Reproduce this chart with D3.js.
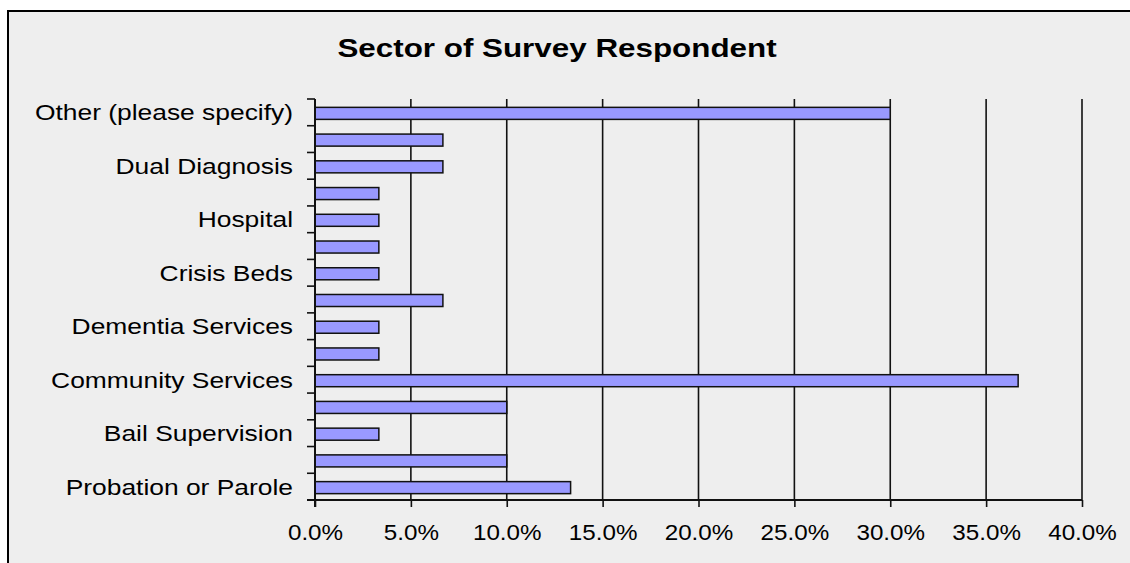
<!DOCTYPE html>
<html>
<head>
<meta charset="utf-8">
<script src="https://cdn.jsdelivr.net/npm/d3@7"></script>
<style>
  html, body { margin: 0; padding: 0; background: #ffffff; }
  svg { display: block; }
  text { font-family: "Liberation Sans", Arial, sans-serif; fill: #000; }
</style>
</head>
<body>
<svg id="chart" width="1130" height="563"></svg>
<script>
// Sectors, listed top to bottom as they appear on the chart
const sectors = [
  "Other (please specify)",
  "Mental Health Agency",
  "Dual Diagnosis",
  "Addictions",
  "Hospital",
  "Housing",
  "Crisis Beds",
  "Case Management",
  "Dementia Services",
  "Court Diversion",
  "Community Services",
  "Youth Justice",
  "Bail Supervision",
  "Corrections",
  "Probation or Parole"
];
// Share of respondents in each sector (percent)
const shares = [30.0, 6.67, 6.67, 3.33, 3.33, 3.33, 3.33, 6.67, 3.33, 3.33, 36.67, 10.0, 3.33, 10.0, 13.33];
// Only every second sector name is printed on the axis
const labelledSectors = [
  "Other (please specify)",
  "Dual Diagnosis",
  "Hospital",
  "Crisis Beds",
  "Dementia Services",
  "Community Services",
  "Bail Supervision",
  "Probation or Parole"
];
const xTicks = [0, 5, 10, 15, 20, 25, 30, 35, 40];
const chartTitle = "Sector of Survey Respondent";

const data = sectors.map((s, i) => ({ sector: s, value: shares[i] }));

const svg = d3.select("#chart");
const W = 1130, H = 563;
const plot = { left: 315, right: 1082, top: 99, bottom: 500 };

// Panel background and frame
svg.append("rect")
  .attr("x", 8).attr("y", 11)
  .attr("width", W + 20).attr("height", H + 20)
  .attr("fill", "#eeeeee")
  .attr("stroke", "#000").attr("stroke-width", 2);

const x = d3.scaleLinear().domain([0, 40]).range([plot.left, plot.right]);
const y = d3.scaleBand().domain(sectors).range([plot.top, plot.bottom])
  .paddingInner(0.55).paddingOuter(0.275);

// Vertical gridlines
svg.append("g")
  .selectAll("line")
  .data(xTicks.slice(1))
  .join("line")
  .attr("x1", d => x(d)).attr("x2", d => x(d))
  .attr("y1", plot.top).attr("y2", plot.bottom)
  .attr("stroke", "#111").attr("stroke-width", 1.6);

// Bars
svg.append("g")
  .selectAll("rect")
  .data(data)
  .join("rect")
  .attr("x", x(0))
  .attr("y", d => y(d.sector) + 1)
  .attr("width", d => x(d.value) - x(0))
  .attr("height", y.bandwidth())
  .attr("fill", "#9999ff")
  .attr("stroke", "#111").attr("stroke-width", 1.5);

// Bottom axis
const xAxis = d3.axisBottom(x)
  .tickValues(xTicks)
  .tickFormat(d => d.toFixed(1) + "%")
  .tickSize(7)
  .tickPadding(17);
const gx = svg.append("g")
  .attr("transform", `translate(0,${plot.bottom})`)
  .call(xAxis);
gx.select(".domain").attr("stroke", "#111").attr("stroke-width", 2)
  .attr("d", `M${plot.left - 8},0H${plot.right}`);
gx.selectAll(".tick line").attr("stroke", "#111").attr("stroke-width", 1.6);
gx.selectAll(".tick text")
  .attr("font-size", 22)
  .attr("font-family", "Liberation Sans, Arial, sans-serif")
  .attr("fill", "#000")
  .attr("transform", "scale(1.1,1)");

// Left axis: names centred on bars, ticks at band boundaries
const yAxis = d3.axisLeft(y)
  .tickSize(0)
  .tickPadding(22)
  .tickFormat(d => labelledSectors.includes(d) ? d : "");
const gy = svg.append("g")
  .attr("transform", `translate(${plot.left},0)`)
  .call(yAxis);
gy.select(".domain").attr("stroke", "#111").attr("stroke-width", 2)
  .attr("d", `M0,${plot.top}V${plot.bottom + 7}`);
gy.selectAll(".tick text")
  .attr("font-size", 22)
  .attr("font-family", "Liberation Sans, Arial, sans-serif")
  .attr("fill", "#000")
  .attr("x", 0)
  .attr("dy", "0.36em")
  .attr("transform", "translate(-22,0) scale(1.2,1)");

const boundaries = sectors.map(s => y(s) - y.step() * y.paddingInner() / 2)
  .concat([plot.bottom]);
gy.append("g")
  .selectAll("line")
  .data(boundaries)
  .join("line")
  .attr("x1", -8).attr("x2", 0)
  .attr("y1", d => d).attr("y2", d => d)
  .attr("stroke", "#111").attr("stroke-width", 1.6);

// Title
svg.append("text")
  .attr("transform", "translate(557,57) scale(1.255,1)")
  .attr("text-anchor", "middle")
  .attr("font-size", 25)
  .attr("font-weight", "bold")
  .text(chartTitle);
</script>
</body>
</html>
